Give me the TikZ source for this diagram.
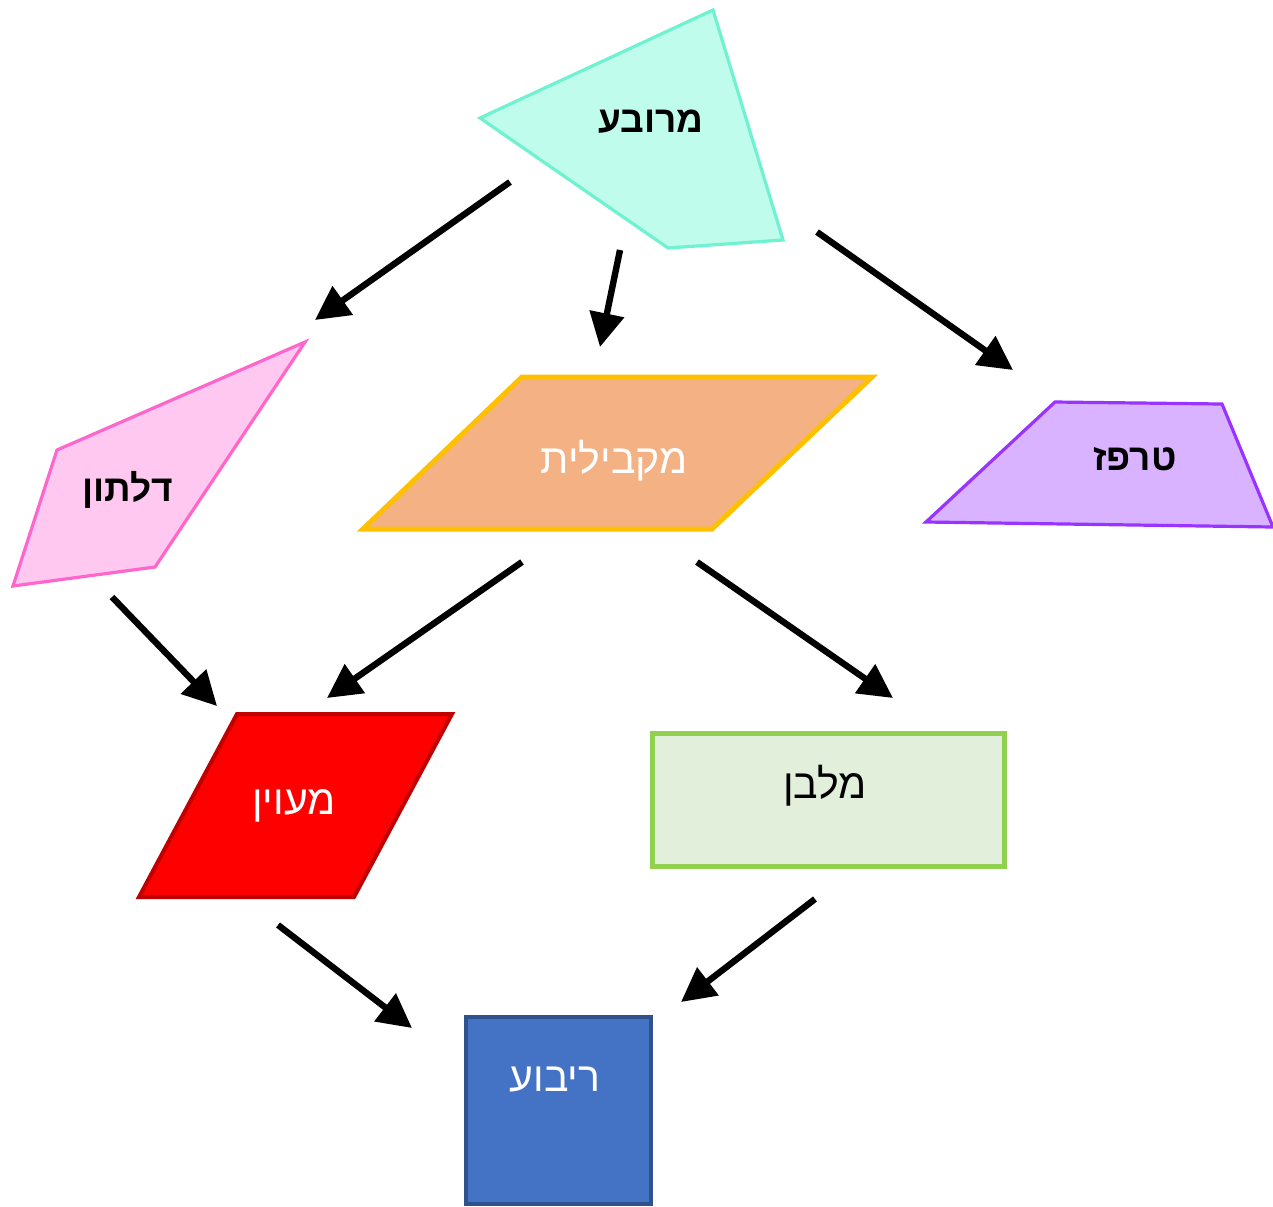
\documentclass[tikz,border=0pt]{standalone}
\usepackage{fontspec}
\setmainfont{Liberation Sans}
\newfontfamily\hebfont[Script=Hebrew]{Liberation Sans}
\TeXXeTstate=1
\usetikzlibrary{arrows.meta}
\definecolor{cyanfill}{HTML}{C0FCEC}
\definecolor{cyanline}{HTML}{6FF2D0}
\definecolor{pinkfill}{HTML}{FFC8F0}
\definecolor{pinkline}{HTML}{FF66CC}
\definecolor{orgfill}{HTML}{F3B184}
\definecolor{orgline}{HTML}{FFC000}
\definecolor{purfill}{HTML}{D9B3FF}
\definecolor{purline}{HTML}{9933FF}
\definecolor{redfill}{HTML}{FF0000}
\definecolor{redline}{HTML}{C00000}
\definecolor{grnfill}{HTML}{E2EFDA}
\definecolor{grnline}{HTML}{92D050}
\definecolor{blufill}{HTML}{4472C4}
\definecolor{bluline}{HTML}{2F528F}
\tikzset{
  shapeline/.style={line width=1.6pt, line join=miter},
  lbl/.style={font=\hebfont\fontsize{20.5}{22}\selectfont, inner sep=0pt},
  lblb/.style={lbl, font=\hebfont\bfseries\fontsize{18.5}{22}\selectfont},
  arr/.style={line width=3.2pt, -{Triangle[length=17pt,width=17pt]}},
}
\begin{document}
\begin{tikzpicture}[x=0.5pt,y=-0.5pt]
\useasboundingbox (0,0) rectangle (1273,1206);
% shapes
\draw[shapeline, draw=cyanline, fill=cyanfill] (480,118) -- (713,10) -- (783,240) -- (668,248) -- cycle;
\draw[shapeline, draw=pinkline, fill=pinkfill] (305,342) -- (57,450) -- (13,586) -- (155,567) -- cycle;
\draw[line width=2.5pt, draw=orgline, fill=orgfill] (363,529) -- (522,377) -- (872,377) -- (712,529) -- cycle;
\draw[shapeline, draw=purline, fill=purfill] (926,522) -- (1055,402) -- (1222,404) -- (1273,527) -- cycle;
\draw[line width=2pt, draw=redline, fill=redfill] (139,897) -- (237,714) -- (452,714) -- (354,897) -- cycle;
\draw[line width=2.5pt, draw=grnline, fill=grnfill] (652,733) rectangle (1004,866);
\draw[line width=2pt, draw=bluline, fill=blufill] (466,1017) rectangle (651,1204);
% labels
\node[lblb] (mruba) at (651,122) {\beginR מרובע\endR};
\node[lblb] (dalton) at (128,490) {\beginR דלתון\endR};
\node[lbl, text=white] (makbilit) at (614,461) {\beginR מקבילית\endR};
\node[lblb] (trapez) at (1135,459) {\beginR טרפז\endR};
\node[lbl, text=white] (meuyan) at (294,806) {\beginR מעוין\endR};
\node[lbl] (malben) at (825,786) {\beginR מלבן\endR};
\node[lbl, text=white] (ribua) at (555,1080) {\beginR ריבוע\endR};
% arrow end points
\coordinate (a1s) at (510,182); \coordinate (a1e) at (315,320);
\coordinate (a2s) at (620,250); \coordinate (a2e) at (600,347);
\coordinate (a3s) at (817,232); \coordinate (a3e) at (1013,370);
\coordinate (a4s) at (112,597); \coordinate (a4e) at (217,706);
\coordinate (a5s) at (522,562); \coordinate (a5e) at (327,698);
\coordinate (a6s) at (697,562); \coordinate (a6e) at (893,698);
\coordinate (a7s) at (278,925); \coordinate (a7e) at (412,1028);
\coordinate (a8s) at (815,899); \coordinate (a8e) at (681,1002);
\foreach \i in {1,...,8} { \draw[arr] (a\i s) -- (a\i e); }
\end{tikzpicture}
\end{document}
